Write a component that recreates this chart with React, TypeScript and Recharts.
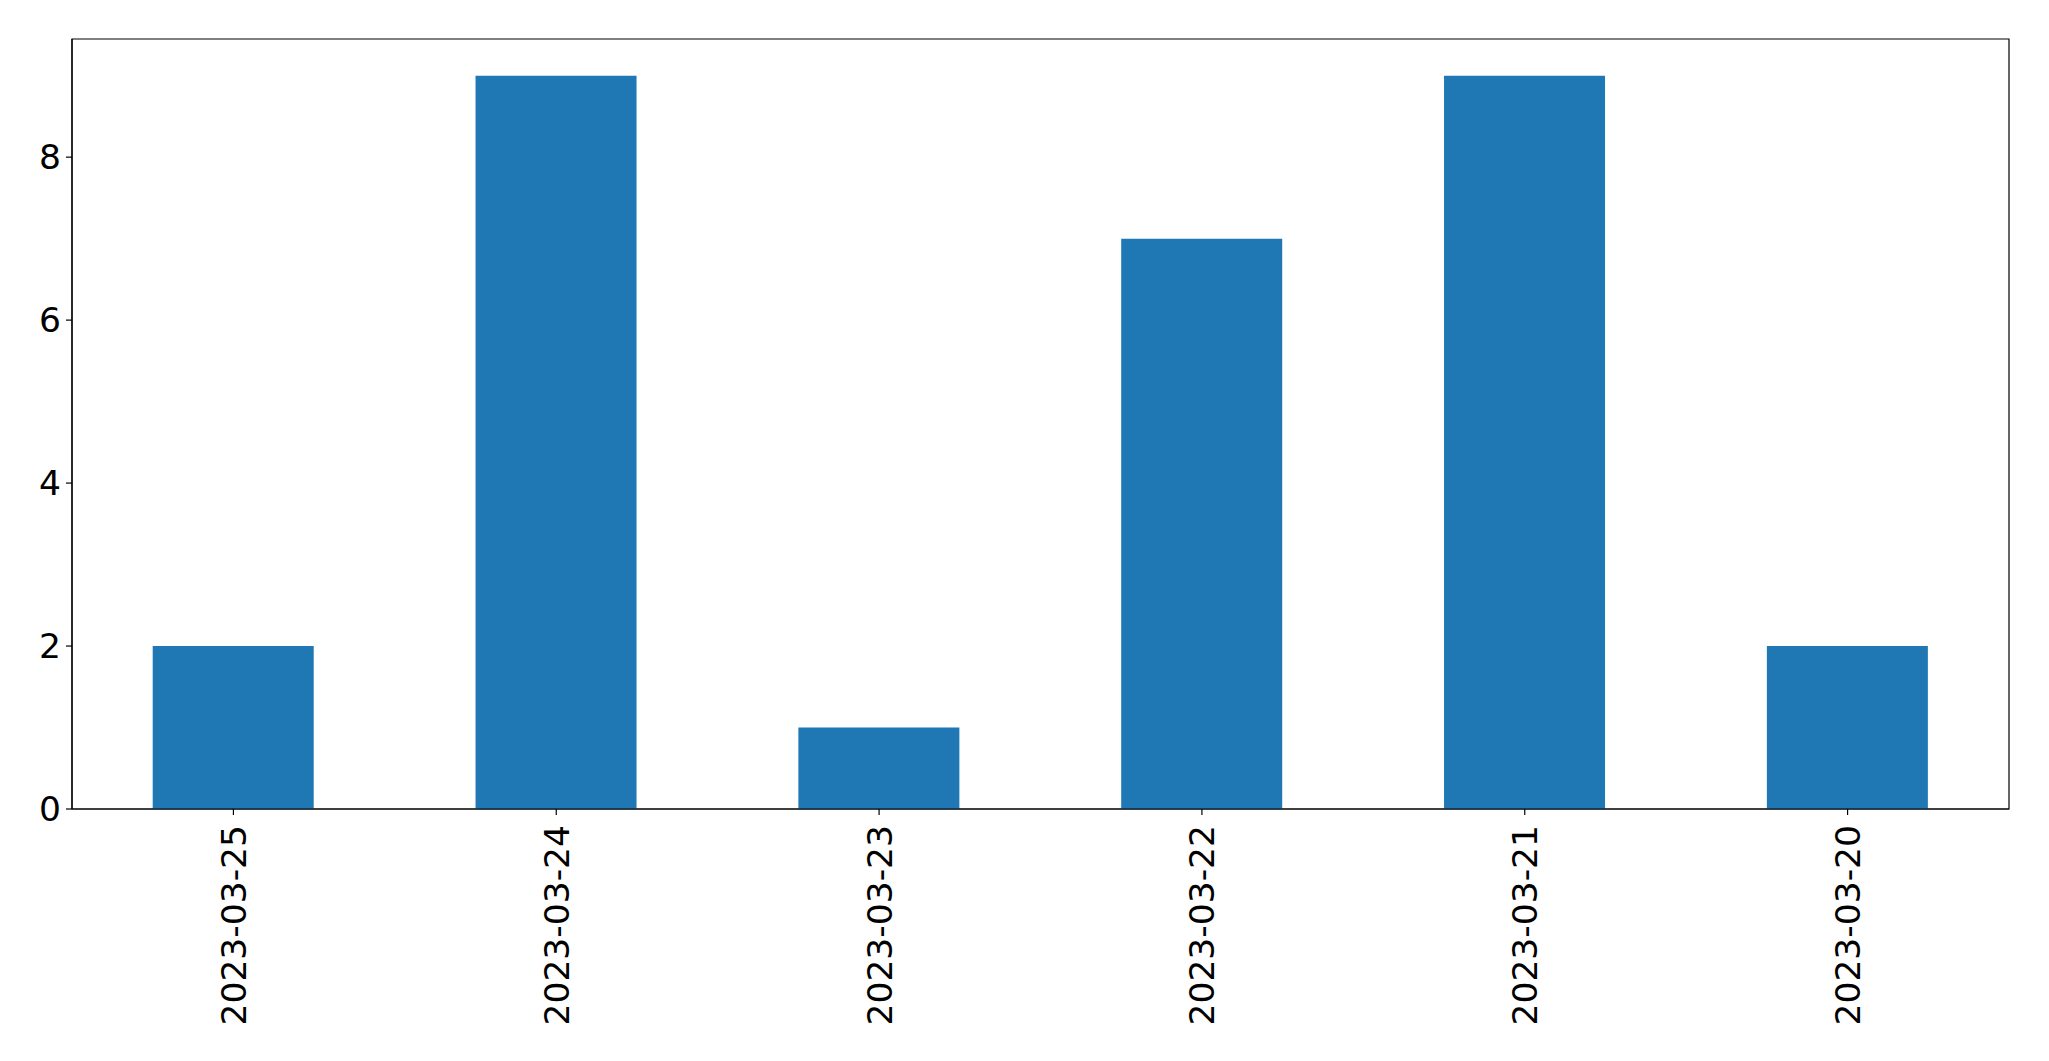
import React from "react";
import { BarChart, Bar, XAxis, YAxis, ReferenceArea } from "recharts";

const categories = ["2023-03-25", "2023-03-24", "2023-03-23", "2023-03-22", "2023-03-21", "2023-03-20"];
const counts = [2, 9, 1, 7, 9, 2];
const yTicks = [0, 2, 4, 6, 8];

const data = categories.map((c, i) => ({ date: c, count: counts[i] }));

const FONT = "DejaVu Sans";
const FS = 34.5;

const XTick = (props: any) => {
  const { x, y, payload } = props;
  return (
    <g transform={`translate(${x},${y})`}>
      <text
        transform="rotate(-90)"
        textAnchor="end"
        dy="0.36em"
        fontFamily={FONT}
        fontSize={FS}
        fill="#000"
      >
        {payload.value}
      </text>
    </g>
  );
};

export default function App() {
  return (
    <div style={{ position: "absolute", left: 0, top: 0, background: "#fff" }}>
      <BarChart
        width={2049}
        height={1061}
        data={data}
        margin={{ top: 39, right: 40, bottom: 0, left: 0 }}
        barCategoryGap="25%"
      >
        <XAxis
          dataKey="date"
          height={252}
          tick={<XTick />}
          tickSize={6}
          tickMargin={10}
          interval={0}
          axisLine={{ stroke: "#000", strokeWidth: 1.2 }}
          tickLine={{ stroke: "#000", strokeWidth: 1.2 }}
        />
        <YAxis
          width={72}
          domain={[0, 9.45]}
          ticks={yTicks}
          tickSize={6}
          tickMargin={5}
          axisLine={{ stroke: "#000", strokeWidth: 1.2 }}
          tickLine={{ stroke: "#000", strokeWidth: 1.2 }}
          tick={{ fontFamily: FONT, fontSize: FS, fill: "#000" }}
        />
        <Bar dataKey="count" fill="#1f77b4" isAnimationActive={false} />
        <ReferenceArea y1={0} y2={9.45} fill="none" stroke="#000" strokeWidth={1.2} />
      </BarChart>
    </div>
  );
}
